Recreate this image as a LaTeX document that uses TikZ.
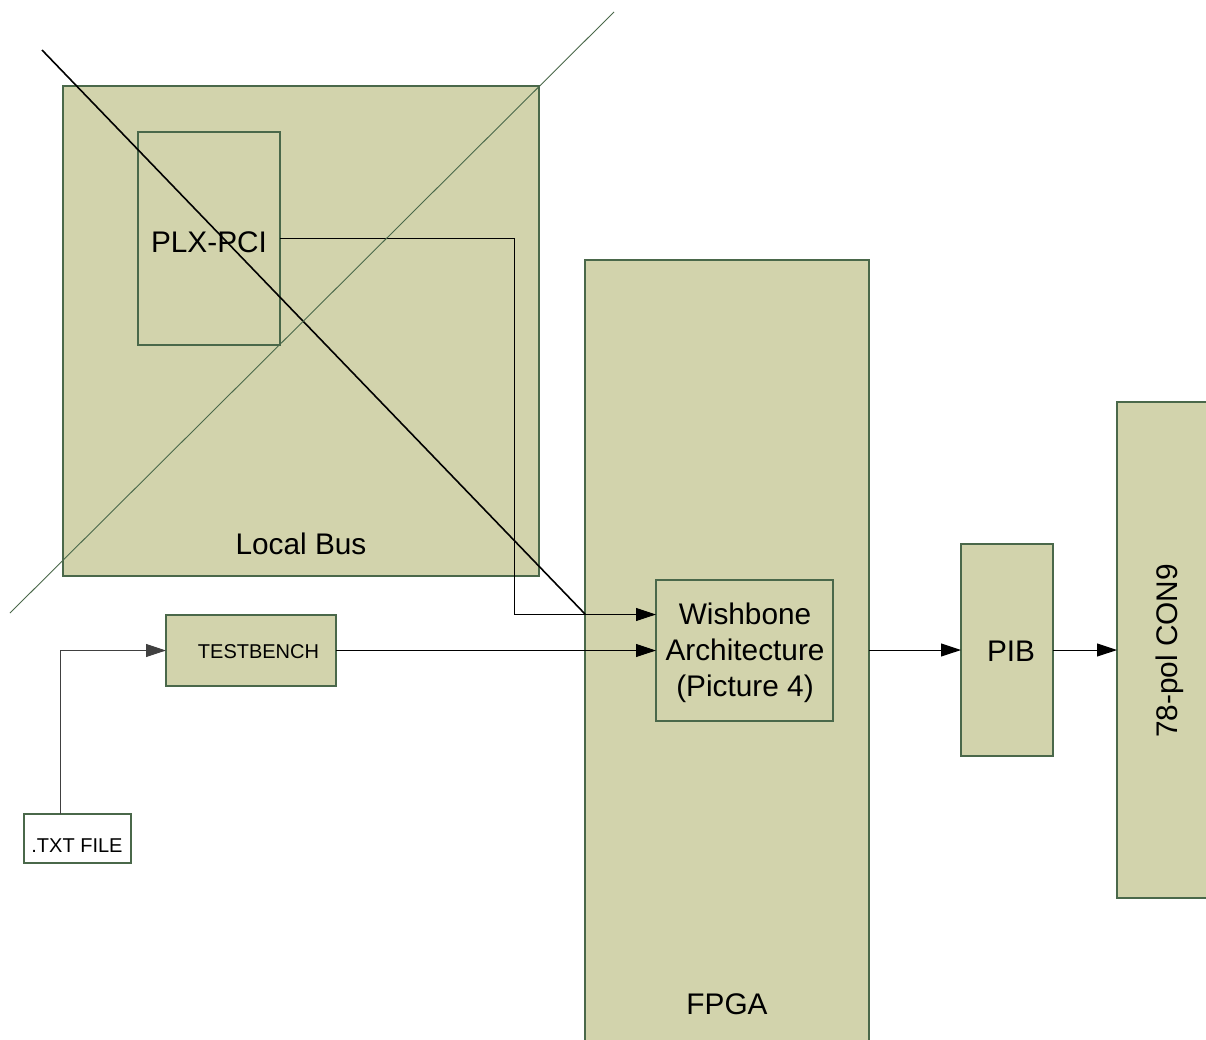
\documentclass[tikz,border=0pt]{standalone}
\usepackage{fontspec}
\setmainfont{Liberation Sans}
\usetikzlibrary{arrows.meta}
\definecolor{boxfill}{RGB}{210,211,172}
\definecolor{boxline}{RGB}{74,104,74}
\begin{document}
\begin{tikzpicture}[x=1pt,y=-1pt,
  blk/.style={draw=boxline,fill=boxfill,line width=1.2pt,inner sep=0pt,outer sep=0pt},
  wbox/.style={draw=boxline,fill=white,line width=1.2pt,inner sep=0pt,outer sep=0pt},
  big/.style={font=\fontsize{29.8}{36}\selectfont,align=center,inner sep=0pt},
  sml/.style={font=\fontsize{20}{24}\selectfont,inner sep=0pt},
  conn/.style={line width=1pt,-{Triangle[length=20pt,width=13pt]}},
]
\useasboundingbox (0,0) rectangle (1206,1039);
\fill[white] (0,0) rectangle (1206,1039);

% blocks
\node[blk,minimum width=476pt,minimum height=490pt] (lb) at (301,331) {};
\node[blk,minimum width=142pt,minimum height=213pt] (plx) at (209,238.5) {};
\node[blk,minimum width=284pt,minimum height=785pt] (fpga) at (727,652.5) {};
\node[blk,minimum width=177pt,minimum height=141pt] (wb) at (744.5,650.5) {};
\node[blk,minimum width=92pt,minimum height=212pt] (pib) at (1007,650) {};
\node[blk,minimum width=95pt,minimum height=496pt] (con) at (1164.5,650) {};
\node[blk,minimum width=170pt,minimum height=71pt] (tb) at (251,650.5) {};
\node[wbox,minimum width=107pt,minimum height=49pt] (txt) at (77.5,838.5) {};

% texts
\node[big,anchor=base] (tplx) at (209,252) {PLX-PCI};
\node[big,anchor=base] (tlb) at (301,554) {Local Bus};
\node[big,anchor=base] (tfpga) at (727,1014) {FPGA};
\node[big] (twb) at (745,652.5) {Wishbone\\Architecture\\(Picture 4)};
\node[big,anchor=base] (tpib) at (1011,661) {PIB};
\node[big,rotate=90] (tcon) at (1170,651) {78-pol CON9};
\node[sml,anchor=base] (ttb) at (258.5,658) {TESTBENCH};
\node[sml,anchor=base] (ttxt) at (77,852) {.TXT FILE};

% connectors
\draw[conn] (plx.east) -- ++(234,0) |- ([yshift=36pt]wb.west);
\draw[conn] (tb.east) -- (wb.west);
\draw[conn,draw=black!75] ([xshift=-17.5pt]txt.north) |- (tb.west);
\draw[conn] (fpga.east |- pib.west) -- (pib.west);
\draw[conn] (pib.east) -- (con.west);

% cross-out lines
\coordinate (d1a) at (42,50);
\coordinate (d1b) at (585,614);
\coordinate (d2a) at (614,12);
\coordinate (d2b) at (10,613);
\draw[line width=1.6pt,black] (d1a) -- (d1b);
\draw[line width=0.9pt,boxline] (d2a) -- (d2b);
\end{tikzpicture}
\end{document}
